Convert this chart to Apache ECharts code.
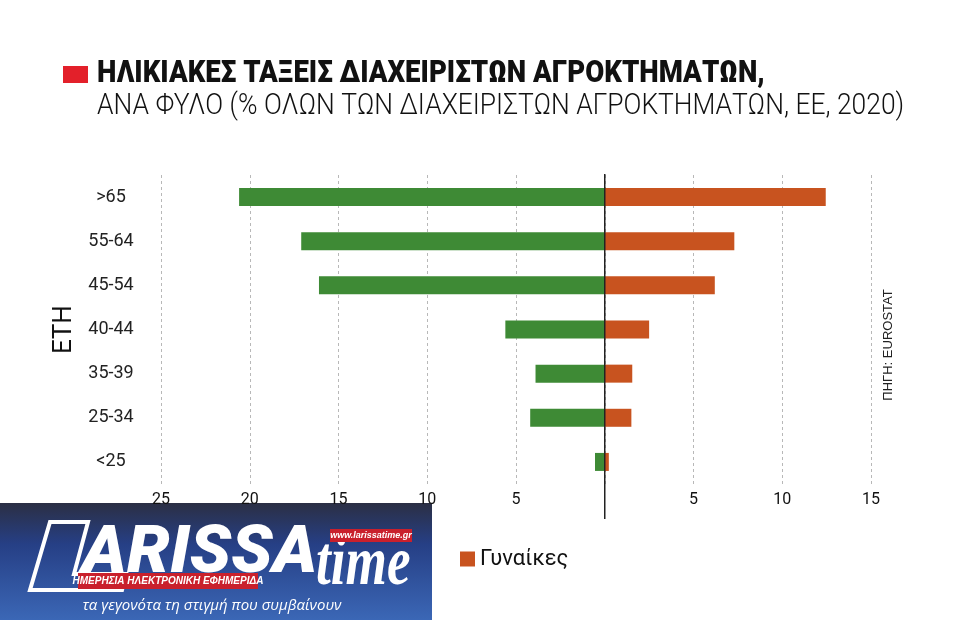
<!DOCTYPE html>
<html>
<head>
<meta charset="utf-8">
<script src="https://cdn.jsdelivr.net/npm/echarts@6/dist/echarts.min.js"></script>
<style>
html,body{margin:0;padding:0;background:#fff;}
#chart{width:960px;height:620px;}
</style>
</head>
<body>
<div id="chart"></div>
<script>
var categories = ['<25', '25-34', '35-39', '40-44', '45-54', '55-64', '>65'];
var men = [0.55, 4.2, 3.9, 5.6, 16.1, 17.1, 20.6];
var women = [0.23, 1.5, 1.55, 2.5, 6.2, 7.3, 12.45];
var xTicks = { min: -25, max: 15, interval: 5 };
var titleLine1 = 'ΗΛΙΚΙΑΚΕΣ ΤΑΞΕΙΣ ΔΙΑΧΕΙΡΙΣΤΩΝ ΑΓΡΟΚΤΗΜΑΤΩΝ,';
var titleLine2 = 'ΑΝΑ ΦΥΛΟ (% ΟΛΩΝ ΤΩΝ ΔΙΑΧΕΙΡΙΣΤΩΝ ΑΓΡΟΚΤΗΜΑΤΩΝ, ΕΕ, 2020)';
var sourceText = 'ΠΗΓΗ: EUROSTAT';
var yName = 'ΕΤΗ';

var GREEN = '#3e8a35';
var ORANGE = '#c8531f';
var sans = 'Roboto, "DejaVu Sans", sans-serif';

var chart = echarts.init(document.getElementById('chart'));
var option = {
  backgroundColor: '#ffffff',
  animation: false,
  grid: { left: 161, right: 89, top: 175, bottom: 136 },
  legend: {
    data: ['Γυναίκες'],
    left: 455, top: 543,
    itemWidth: 15, itemHeight: 15, icon: 'rect',
    textStyle: { fontSize: 22, color: '#111', fontFamily: sans },
    itemGap: 6
  },
  xAxis: {
    type: 'value',
    min: xTicks.min, max: xTicks.max, interval: xTicks.interval,
    axisLine: { show: false },
    axisTick: { show: false },
    axisLabel: {
      fontSize: 16, color: '#111', margin: 8, fontFamily: sans,
      formatter: function (v) { return v === 0 ? '' : String(Math.abs(v)); }
    },
    splitLine: { show: true, lineStyle: { color: '#b8b8b8', type: [3, 3], width: 1 } }
  },
  yAxis: {
    type: 'category',
    data: categories,
    axisLine: { show: false, onZero: false },
    axisTick: { show: false },
    axisLabel: { fontSize: 18, color: '#222', align: 'center', margin: 50, fontFamily: sans },
    name: yName,
    nameLocation: 'middle',
    nameRotate: 90,
    nameGap: 84,
    nameTextStyle: { fontSize: 26, color: '#111', fontFamily: sans }
  },
  series: [
    {
      name: 'Άνδρες', type: 'bar', stack: 'all', barWidth: 18,
      itemStyle: { color: GREEN },
      data: men.map(function (v) { return -v; })
    },
    {
      name: 'Γυναίκες', type: 'bar', stack: 'all', barWidth: 18,
      itemStyle: { color: ORANGE },
      data: women
    }
  ],
  graphic: [
    { type: 'rect', left: 63, top: 66, shape: { width: 25, height: 17 }, style: { fill: '#e3202a' } },
    { type: 'text', x: 97, y: 59, scaleX: 0.89, style: { text: titleLine1, font: '900 31px ' + sans, fill: '#111' } },
    { type: 'text', x: 97, y: 91, scaleX: 0.88, style: { text: titleLine2, font: '300 30px ' + sans, fill: '#111' } },
    { type: 'text', x: 888, y: 345, rotation: Math.PI / 2, style: { text: sourceText, font: '13px "Liberation Sans", Arial, sans-serif', fill: '#222', align: 'center', verticalAlign: 'middle' } },
    // logo
    { type: 'group', id: 'logo', z: 100, children: [
      { type: 'rect', shape: { x: 0, y: 503, width: 432, height: 117 },
        style: { fill: new echarts.graphic.LinearGradient(0, 0, 0, 1, [
          { offset: 0, color: '#2b2f44' }, { offset: 0.35, color: '#263f85' }, { offset: 1, color: '#3b67b6' }]) } },
      { type: 'polygon', shape: { points: [[50, 522], [88, 522], [74, 574], [126, 574], [122, 590], [30, 590]] },
        style: { fill: 'none', stroke: '#ffffff', lineWidth: 4 } },
      { type: 'text', x: 82, y: 522, scaleX: 1.03, style: { text: 'ARISSA', font: 'italic 900 66px ' + sans, fill: '#ffffff' } },
      { type: 'text', x: 316, y: 531, scaleX: 0.76, style: { text: 'time', font: 'italic bold 70px "Liberation Serif", "DejaVu Serif", serif', fill: '#ffffff' } },
      { type: 'rect', shape: { x: 330, y: 529, width: 82, height: 13 }, style: { fill: '#c9202c' } },
      { type: 'text', x: 371, y: 535.5, style: { text: 'www.larissatime.gr', font: 'italic bold 9px "Liberation Sans", sans-serif', fill: '#ffffff', align: 'center', verticalAlign: 'middle' } },
      { type: 'rect', shape: { x: 78, y: 573, width: 180, height: 16 }, style: { fill: '#c9202c' } },
      { type: 'text', x: 168, y: 581, style: { text: 'ΗΜΕΡΗΣΙΑ ΗΛΕΚΤΡΟΝΙΚΗ ΕΦΗΜΕΡΙΔΑ', font: 'italic bold 10px "Liberation Sans", sans-serif', fill: '#ffffff', align: 'center', verticalAlign: 'middle' } },
      { type: 'text', x: 212, y: 606, style: { text: 'τα γεγονότα τη στιγμή που συμβαίνουν', font: 'italic 15px "Open Sans", sans-serif', fill: '#ffffff', align: 'center', verticalAlign: 'middle' } }
    ]}
  ]
};
chart.setOption(option);

// zero line through the value axis zero, from the library's scale
var x0 = chart.convertToPixel({ xAxisIndex: 0 }, 0);
chart.setOption({
  graphic: [{ type: 'line', id: 'zeroLine', z: 50,
    shape: { x1: x0, y1: 174, x2: x0, y2: 519 },
    style: { stroke: '#222', lineWidth: 1.5 } }]
});
</script>
</body>
</html>
